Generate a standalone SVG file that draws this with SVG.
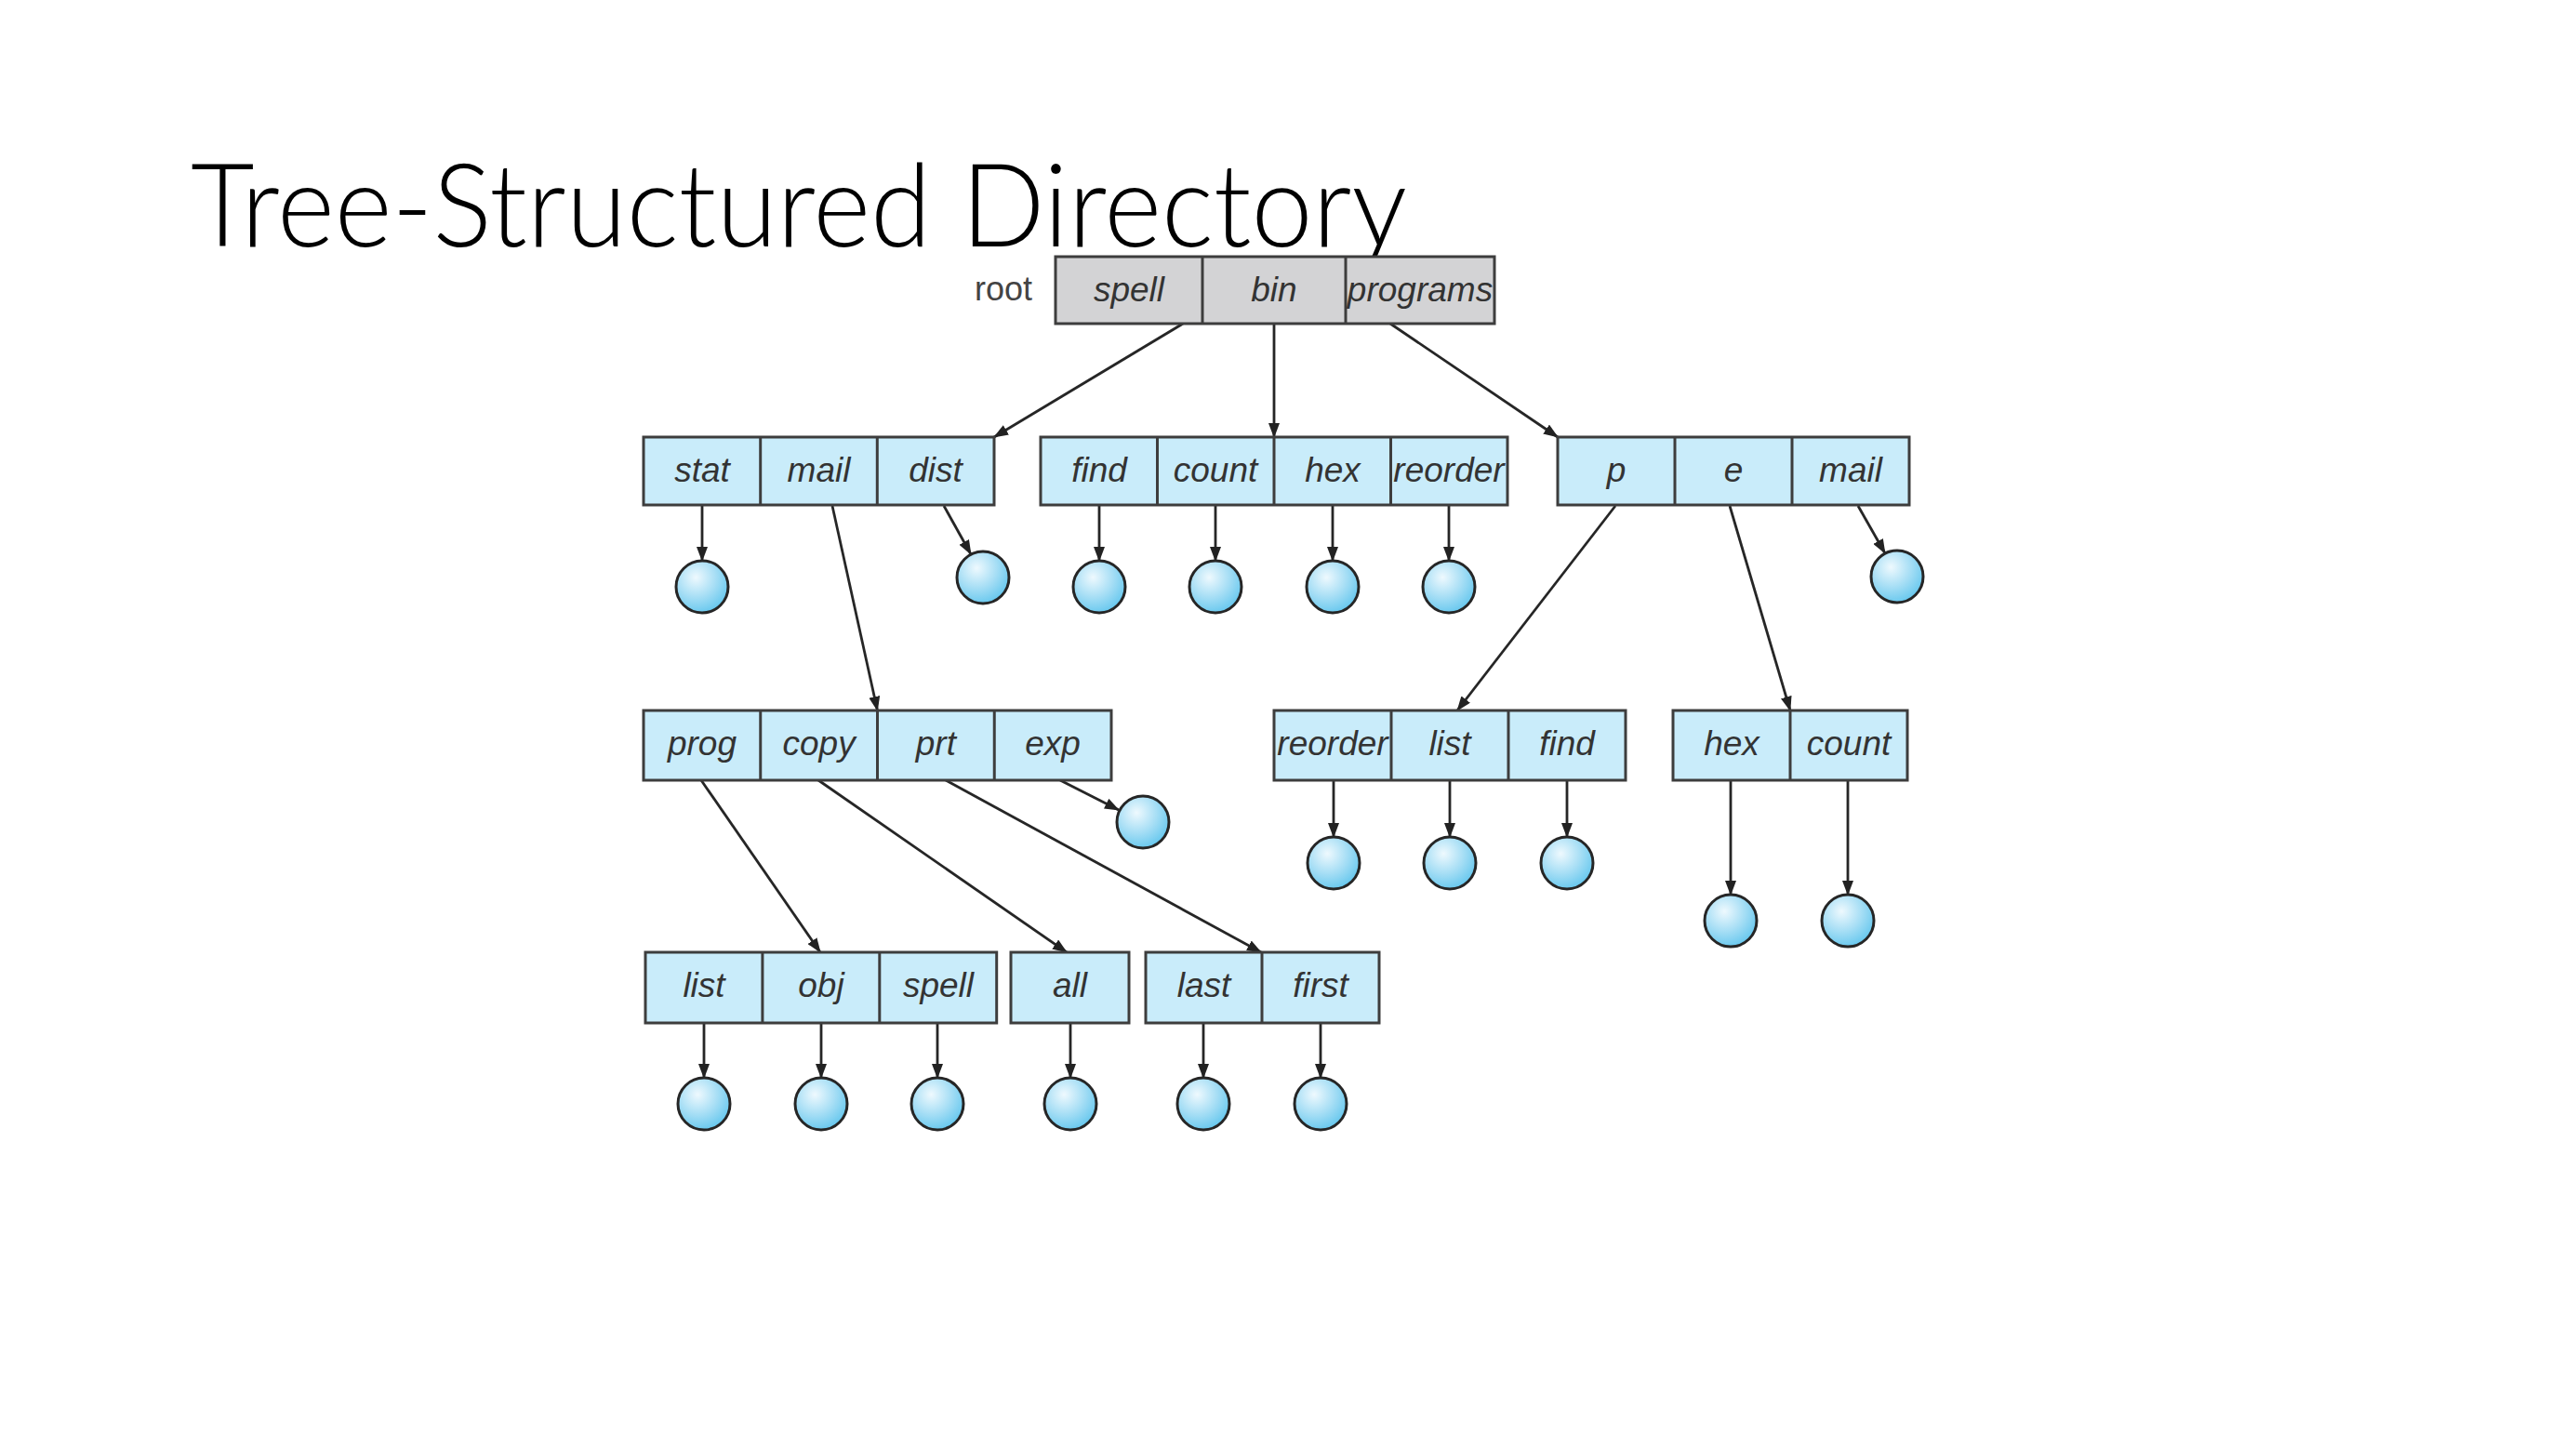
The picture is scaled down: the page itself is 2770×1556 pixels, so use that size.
<svg xmlns="http://www.w3.org/2000/svg" width="2770" height="1556" viewBox="0 0 2770 1556">
  <defs>
    <radialGradient id="ball" cx="0.38" cy="0.32" r="0.7">
      <stop offset="0" stop-color="#eef9fe"/>
      <stop offset="0.55" stop-color="#a6def5"/>
      <stop offset="1" stop-color="#68c8ee"/>
    </radialGradient>
    <marker id="ah" markerUnits="userSpaceOnUse" markerWidth="16" markerHeight="12" refX="15" refY="6" orient="auto">
      <path d="M0,0 L16,6 L0,12 z" fill="#222"/>
    </marker>
    <style>
      .title { font-family: Lato, "Open Sans", "Liberation Sans", sans-serif; font-weight: 300; font-size: 124px; fill: #000; }
      .box { fill: #c9ecfa; stroke: #3d3d3d; stroke-width: 3; }
      .rootbox { fill: #d3d3d5; stroke: #3d3d3d; stroke-width: 3; }
      .div { stroke: #3d3d3d; stroke-width: 3; }
      .lbl { font-family: "Liberation Sans", Arial, sans-serif; font-style: italic; font-size: 37px; fill: #333; text-anchor: middle; }
      .rootlbl { font-family: "Liberation Sans", Arial, sans-serif; font-size: 36px; fill: #444; text-anchor: end; }
      .file { fill: url(#ball); stroke: #262626; stroke-width: 3; }
      .edge { stroke: #262626; stroke-width: 2.8; fill: none; marker-end: url(#ah); }
    </style>
  </defs>
  <rect x="0" y="0" width="2770" height="1556" fill="#ffffff"/>

  <text class="title" x="205" y="265" textLength="1308" lengthAdjust="spacingAndGlyphs">Tree-Structured Directory</text>

  <g id="connectors">
    <line class="edge" x1="1272" y1="348" x2="1069" y2="470"/>
    <line class="edge" x1="1370" y1="348" x2="1370" y2="470"/>
    <line class="edge" x1="1495" y1="348" x2="1675" y2="470"/>
    <line class="edge" x1="755" y1="544" x2="755" y2="603"/>
    <line class="edge" x1="895" y1="544" x2="943.5" y2="764"/>
    <line class="edge" x1="1015" y1="544" x2="1044" y2="596"/>
    <line class="edge" x1="1182" y1="544" x2="1182" y2="603"/>
    <line class="edge" x1="1307" y1="544" x2="1307" y2="603"/>
    <line class="edge" x1="1433" y1="544" x2="1433" y2="603"/>
    <line class="edge" x1="1558" y1="544" x2="1558" y2="603"/>
    <line class="edge" x1="1737" y1="544" x2="1567" y2="764"/>
    <line class="edge" x1="1860" y1="544" x2="1925" y2="764"/>
    <line class="edge" x1="1998" y1="544" x2="2027" y2="595"/>
    <line class="edge" x1="754" y1="839" x2="882" y2="1024"/>
    <line class="edge" x1="880" y1="839" x2="1147" y2="1024"/>
    <line class="edge" x1="1017" y1="839" x2="1356" y2="1024"/>
    <line class="edge" x1="1140" y1="839" x2="1203" y2="871"/>
    <line class="edge" x1="1434" y1="839" x2="1434" y2="900"/>
    <line class="edge" x1="1559" y1="839" x2="1559" y2="900"/>
    <line class="edge" x1="1685" y1="839" x2="1685" y2="900"/>
    <line class="edge" x1="1861" y1="839" x2="1861" y2="962"/>
    <line class="edge" x1="1987" y1="839" x2="1987" y2="962"/>
    <line class="edge" x1="757" y1="1100" x2="757" y2="1159"/>
    <line class="edge" x1="883" y1="1100" x2="883" y2="1159"/>
    <line class="edge" x1="1008" y1="1100" x2="1008" y2="1159"/>
    <line class="edge" x1="1151" y1="1100" x2="1151" y2="1159"/>
    <line class="edge" x1="1294" y1="1100" x2="1294" y2="1159"/>
    <line class="edge" x1="1420" y1="1100" x2="1420" y2="1159"/>
  </g>

  <g id="root">
    <text class="rootlbl" x="1110" y="323">root</text>
    <rect class="rootbox" x="1135" y="276" width="472" height="72"/>
    <line class="div" x1="1293" y1="276" x2="1293" y2="348"/>
    <line class="div" x1="1447" y1="276" x2="1447" y2="348"/>
    <text class="lbl" x="1214" y="324">spell</text>
    <text class="lbl" x="1370" y="324">bin</text>
    <text class="lbl" x="1527" y="324">programs</text>
  </g>

  <g id="dir-spell">
    <rect class="box" x="692" y="470" width="377" height="73"/>
    <line class="div" x1="817.7" y1="470" x2="817.7" y2="543"/>
    <line class="div" x1="943.3" y1="470" x2="943.3" y2="543"/>
    <text class="lbl" x="755" y="518">stat</text>
    <text class="lbl" x="880.5" y="518">mail</text>
    <text class="lbl" x="1006" y="518">dist</text>
  </g>

  <g id="dir-bin">
    <rect class="box" x="1119" y="470" width="502" height="73"/>
    <line class="div" x1="1244.5" y1="470" x2="1244.5" y2="543"/>
    <line class="div" x1="1370" y1="470" x2="1370" y2="543"/>
    <line class="div" x1="1495.5" y1="470" x2="1495.5" y2="543"/>
    <text class="lbl" x="1182" y="518">find</text>
    <text class="lbl" x="1307" y="518">count</text>
    <text class="lbl" x="1433" y="518">hex</text>
    <text class="lbl" x="1558" y="518">reorder</text>
  </g>

  <g id="dir-programs">
    <rect class="box" x="1675" y="470" width="378" height="73"/>
    <line class="div" x1="1801" y1="470" x2="1801" y2="543"/>
    <line class="div" x1="1927" y1="470" x2="1927" y2="543"/>
    <text class="lbl" x="1738" y="518">p</text>
    <text class="lbl" x="1864" y="518">e</text>
    <text class="lbl" x="1990" y="518">mail</text>
  </g>

  <g id="files-row2">
    <circle class="file" cx="755" cy="631" r="28"/>
    <circle class="file" cx="1057" cy="621" r="28"/>
    <circle class="file" cx="1182" cy="631" r="28"/>
    <circle class="file" cx="1307" cy="631" r="28"/>
    <circle class="file" cx="1433" cy="631" r="28"/>
    <circle class="file" cx="1558" cy="631" r="28"/>
    <circle class="file" cx="2040" cy="620" r="28"/>
  </g>

  <g id="dir-mail">
    <rect class="box" x="692" y="764" width="503" height="75"/>
    <line class="div" x1="817.75" y1="764" x2="817.75" y2="839"/>
    <line class="div" x1="943.5" y1="764" x2="943.5" y2="839"/>
    <line class="div" x1="1069.25" y1="764" x2="1069.25" y2="839"/>
    <text class="lbl" x="755" y="812">prog</text>
    <text class="lbl" x="880.6" y="812">copy</text>
    <text class="lbl" x="1006.4" y="812">prt</text>
    <text class="lbl" x="1132" y="812">exp</text>
  </g>

  <g id="dir-p">
    <rect class="box" x="1370" y="764" width="378" height="75"/>
    <line class="div" x1="1496" y1="764" x2="1496" y2="839"/>
    <line class="div" x1="1622" y1="764" x2="1622" y2="839"/>
    <text class="lbl" x="1433" y="812">reorder</text>
    <text class="lbl" x="1559" y="812">list</text>
    <text class="lbl" x="1685" y="812">find</text>
  </g>

  <g id="dir-e">
    <rect class="box" x="1799" y="764" width="252" height="75"/>
    <line class="div" x1="1925" y1="764" x2="1925" y2="839"/>
    <text class="lbl" x="1862" y="812">hex</text>
    <text class="lbl" x="1988" y="812">count</text>
  </g>

  <g id="files-row3">
    <circle class="file" cx="1229" cy="884" r="28"/>
    <circle class="file" cx="1434" cy="928" r="28"/>
    <circle class="file" cx="1559" cy="928" r="28"/>
    <circle class="file" cx="1685" cy="928" r="28"/>
    <circle class="file" cx="1861" cy="990" r="28"/>
    <circle class="file" cx="1987" cy="990" r="28"/>
  </g>

  <g id="dir-prog">
    <rect class="box" x="694" y="1024" width="377.7" height="76"/>
    <line class="div" x1="819.9" y1="1024" x2="819.9" y2="1100"/>
    <line class="div" x1="945.8" y1="1024" x2="945.8" y2="1100"/>
    <text class="lbl" x="757" y="1072">list</text>
    <text class="lbl" x="883" y="1072">obj</text>
    <text class="lbl" x="1009" y="1072">spell</text>
  </g>

  <g id="dir-copy">
    <rect class="box" x="1087" y="1024" width="127" height="76"/>
    <text class="lbl" x="1150.5" y="1072">all</text>
  </g>

  <g id="dir-prt">
    <rect class="box" x="1232" y="1024" width="251" height="76"/>
    <line class="div" x1="1357" y1="1024" x2="1357" y2="1100"/>
    <text class="lbl" x="1294.5" y="1072">last</text>
    <text class="lbl" x="1420" y="1072">first</text>
  </g>

  <g id="files-row4">
    <circle class="file" cx="757" cy="1187" r="28"/>
    <circle class="file" cx="883" cy="1187" r="28"/>
    <circle class="file" cx="1008" cy="1187" r="28"/>
    <circle class="file" cx="1151" cy="1187" r="28"/>
    <circle class="file" cx="1294" cy="1187" r="28"/>
    <circle class="file" cx="1420" cy="1187" r="28"/>
  </g>
</svg>
